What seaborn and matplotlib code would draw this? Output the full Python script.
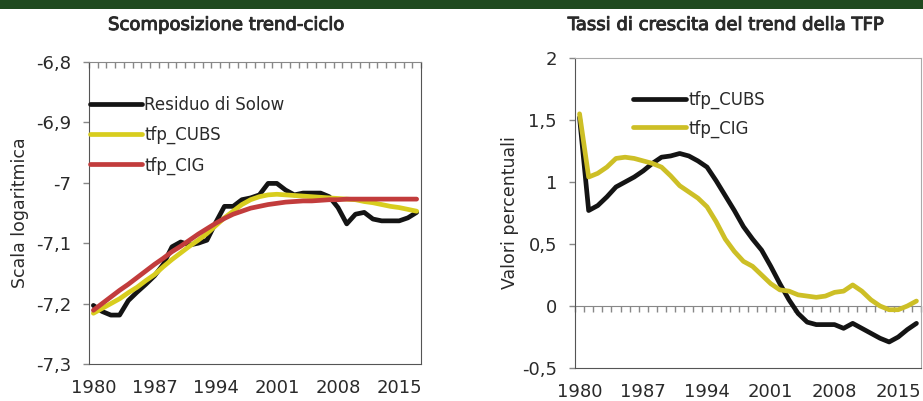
import pandas as pd
import matplotlib.pyplot as plt
import matplotlib.patheffects as pe
import seaborn as sns
from matplotlib.ticker import FixedLocator, FuncFormatter, MultipleLocator
from matplotlib.patches import Rectangle

# Data (annual, 1980-2017)
years = list(range(1980, 2018))

residuo_solow = [-7.203, -7.213, -7.219, -7.219, -7.195, -7.181, -7.168, -7.154, -7.135, -7.106,
                 -7.098, -7.103, -7.100, -7.095, -7.066, -7.039, -7.039, -7.028, -7.025, -7.020,
                 -7.001, -7.001, -7.012, -7.020, -7.017, -7.017, -7.017, -7.023, -7.041, -7.068,
                 -7.052, -7.049, -7.060, -7.063, -7.063, -7.063, -7.058, -7.049]
tfp_cubs_level = [-7.216, -7.208, -7.200, -7.192, -7.182, -7.173, -7.162, -7.152, -7.139, -7.127,
                  -7.116, -7.105, -7.095, -7.084, -7.071, -7.058, -7.047, -7.036, -7.028, -7.023,
                  -7.020, -7.019, -7.020, -7.021, -7.022, -7.023, -7.024, -7.025, -7.026, -7.027,
                  -7.028, -7.031, -7.033, -7.036, -7.039, -7.041, -7.044, -7.047]
tfp_cig_level = [-7.211, -7.200, -7.189, -7.178, -7.168, -7.157, -7.146, -7.135, -7.125, -7.114,
                 -7.105, -7.095, -7.085, -7.076, -7.067, -7.059, -7.052, -7.047, -7.042, -7.039,
                 -7.036, -7.034, -7.032, -7.031, -7.030, -7.030, -7.029, -7.028, -7.028, -7.027,
                 -7.027, -7.027, -7.027, -7.027, -7.027, -7.027, -7.027, -7.027]

growth_cubs = [1.52, 0.77, 0.81, 0.88, 0.96, 1.00, 1.04, 1.09, 1.15, 1.20,
               1.21, 1.23, 1.21, 1.17, 1.12, 1.01, 0.89, 0.77, 0.64, 0.54,
               0.45, 0.32, 0.18, 0.05, -0.06, -0.13, -0.15, -0.15, -0.15, -0.18,
               -0.14, -0.18, -0.22, -0.26, -0.29, -0.25, -0.19, -0.14]
growth_cig = [1.55, 1.04, 1.07, 1.12, 1.19, 1.20, 1.19, 1.17, 1.15, 1.12,
              1.05, 0.97, 0.92, 0.87, 0.80, 0.68, 0.54, 0.44, 0.36, 0.32,
              0.25, 0.18, 0.13, 0.12, 0.09, 0.08, 0.07, 0.08, 0.11, 0.12,
              0.17, 0.12, 0.05, 0.00, -0.03, -0.03, 0.00, 0.04]

x_ticks = [1980, 1987, 1994, 2001, 2008, 2015]
left_yticks = [-7.3, -7.2, -7.1, -7.0, -6.9, -6.8]
right_yticks = [-0.5, 0, 0.5, 1, 1.5, 2]

left_names = ['Residuo di Solow', 'tfp_CUBS', 'tfp_CIG']
right_names = ['tfp_CUBS', 'tfp_CIG']
left_colors = {'Residuo di Solow': '#141414', 'tfp_CUBS': '#d8cd1e', 'tfp_CIG': '#c23c3c'}
right_colors = {'tfp_CUBS': '#141414', 'tfp_CIG': '#cdbf26'}

df_left = pd.DataFrame({
    'anno': years * 3,
    'valore': residuo_solow + tfp_cubs_level + tfp_cig_level,
    'serie': [n for n in left_names for _ in years],
})
df_right = pd.DataFrame({
    'anno': years * 2,
    'valore': growth_cubs + growth_cig,
    'serie': [n for n in right_names for _ in years],
})

sns.set_style('white')
plt.rcParams['font.family'] = ['DejaVu Sans']
text_col = '#2a2a2a'
spine_col = '#555555'
tick_col = '#888888'

fig = plt.figure(figsize=(9.23, 4.01), dpi=100)
fig.add_artist(Rectangle((0, 1 - 9 / 401), 1, 9 / 401, transform=fig.transFigure,
                         facecolor='#1f4a1f', edgecolor='none'))

ax1 = fig.add_axes([89 / 923, 1 - 364 / 401, (421 - 89) / 923, (364 - 62) / 401])
ax2 = fig.add_axes([575 / 923, 1 - 368 / 401, (921 - 575) / 923, (368 - 58) / 401])

comma = FuncFormatter(lambda v, _: f"{round(v, 2):g}".replace('.', ','))

# Left panel: trend-cycle decomposition
sns.lineplot(data=df_left, x='anno', y='valore', hue='serie', hue_order=left_names,
             palette=left_colors, linewidth=3.4, solid_joinstyle='round', ax=ax1)
ax1.set_ylim(-7.3, -6.8)
ax1.yaxis.set_major_locator(FixedLocator(left_yticks))
ax1.tick_params(axis='x', which='major', bottom=False, top=False, length=0, pad=11)
ax1.xaxis.set_minor_locator(MultipleLocator(1, offset=0.5))
ax1.tick_params(axis='x', which='minor', bottom=False, top=True, direction='in',
                length=4, width=1, color=tick_col)
for s in ['left', 'right', 'bottom']:
    ax1.spines[s].set_color(spine_col)
ax1.spines['top'].set_color(tick_col)

# Right panel: TFP trend growth rates
sns.lineplot(data=df_right, x='anno', y='valore', hue='serie', hue_order=right_names,
             palette=right_colors, linewidth=3.4, solid_joinstyle='round', ax=ax2)
ax2.set_ylim(-0.5, 2)
ax2.yaxis.set_major_locator(FixedLocator(right_yticks))
ax2.tick_params(axis='x', which='major', bottom=False, top=False, length=0, pad=11)
zero_axis = ax2.secondary_xaxis(0, transform=ax2.transData)
zero_axis.xaxis.set_major_locator(FixedLocator([]))
zero_axis.xaxis.set_minor_locator(MultipleLocator(1, offset=0.5))
zero_axis.tick_params(which='minor', direction='out', length=4, width=1, color=tick_col,
                      labelbottom=False)
for s in zero_axis.spines.values():
    s.set_color(tick_col)
for s in ['left', 'bottom']:
    ax2.spines[s].set_color(spine_col)
for s in ['top', 'right']:
    ax2.spines[s].set_color('#aaaaaa')

for ax in (ax1, ax2):
    ax.set_xlim(1979.5, 2017.5)
    ax.xaxis.set_major_locator(FixedLocator(x_ticks))
    ax.yaxis.set_major_formatter(comma)
    ax.tick_params(axis='y', which='major', left=True, direction='out', length=4,
                   width=1, color=tick_col, pad=9)
    ax.tick_params(labelsize=13, labelcolor=text_col)
    ax.set_xlabel('')
    ax.set_ylabel('')
    ax.legend_.remove()

h1, l1 = ax1.get_legend_handles_labels()
fig.legend(h1, l1, loc='upper left', bbox_to_anchor=(90 / 923, 1 - 96 / 401),
           frameon=False, fontsize=12, handlelength=3.1, handletextpad=0.15,
           labelspacing=0.72, borderpad=0, borderaxespad=0, labelcolor=text_col)
h2, l2 = ax2.get_legend_handles_labels()
fig.legend(h2, l2, loc='upper left', bbox_to_anchor=(633 / 923, 1 - 91 / 401),
           frameon=False, fontsize=12, handlelength=3.2, handletextpad=0.15,
           labelspacing=0.6, borderpad=0, borderaxespad=0, labelcolor=text_col)

heavy = [pe.withStroke(linewidth=0.7, foreground=text_col)]
fig.text(226 / 923, 1 - 25 / 401, 'Scomposizione trend-ciclo', ha='center', va='center',
         fontsize=13, color=text_col, path_effects=heavy)
fig.text(726 / 923, 1 - 25 / 401, 'Tassi di crescita del trend della TFP', ha='center',
         va='center', fontsize=13, color=text_col, path_effects=heavy)
fig.text(20 / 923, 1 - 213 / 401, 'Scala logaritmica', rotation=90, ha='center',
         va='center', fontsize=12.5, color=text_col)
fig.text(510 / 923, 1 - 213 / 401, 'Valori percentuali', rotation=90, ha='center',
         va='center', fontsize=12.5, color=text_col)

fig.savefig('out.png', dpi=100)
